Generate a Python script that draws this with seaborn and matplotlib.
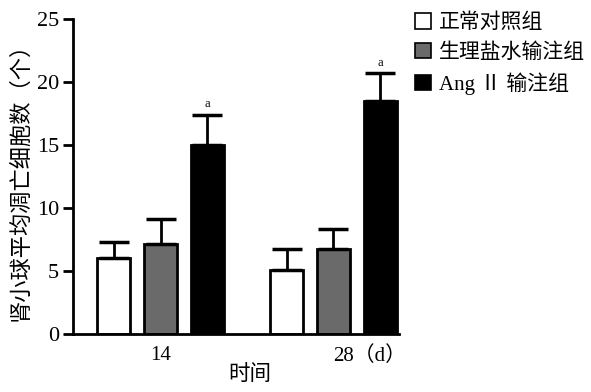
import numpy as np
import pandas as pd
import seaborn as sns
import matplotlib
matplotlib.use("Agg")
import matplotlib.pyplot as plt
from matplotlib.patches import Patch

# Data
times = ["14", "28（d）"]
groups = ["正常对照组", "生理盐水输注组", "Ang Ⅱ 输注组"]
means = {
    "正常对照组": [6.0, 5.1],
    "生理盐水输注组": [7.1, 6.7],
    "Ang Ⅱ 输注组": [15.0, 18.5],
}
errors = {
    "正常对照组": [1.3, 1.6],
    "生理盐水输注组": [2.0, 1.6],
    "Ang Ⅱ 输注组": [2.4, 2.2],
}
colors = ["#ffffff", "#6a6a6a", "#000000"]
yticks = [0, 5, 10, 15, 20, 25]

rows = []
for g in groups:
    for t, v in zip(times, means[g]):
        rows.append({"time": t, "group": g, "value": v})
df = pd.DataFrame(rows)

sns.set_theme(style="white")
plt.rcParams["font.family"] = ["Liberation Serif", "Noto Sans CJK SC", "DejaVu Sans"]
plt.rcParams.update({"text.color": "black", "axes.labelcolor": "black",
                     "xtick.color": "black", "ytick.color": "black"})

fig = plt.figure(figsize=(5.91, 3.92), dpi=100)
ax = fig.add_axes([73 / 591, 1 - 334 / 392, (399 - 73) / 591, (334 - 18.7) / 392])

sns.barplot(data=df, x="time", y="value", hue="group", hue_order=groups,
            order=times, palette=colors, edgecolor="black", linewidth=2,
            width=0.81, gap=0.29, errorbar=None, legend=False, ax=ax)

# one-sided error bars on top of each bar
for g, cont in zip(groups, ax.containers):
    xs = [p.get_x() + p.get_width() / 2 for p in cont.patches]
    hs = [p.get_height() for p in cont.patches]
    err = errors[g]
    ax.errorbar(xs, hs, yerr=[np.zeros(len(err)), err], fmt="none",
                ecolor="black", elinewidth=2, capsize=11, capthick=2.5, zorder=3)
    if g == groups[-1]:
        for x, h, e in zip(xs, hs, err):
            ax.text(x, h + e + 0.35, "a", ha="center", va="bottom", fontsize=9)

ax.set_xlim(-0.506, 1.379)
ax.set_ylim(0, 25)
ax.set_yticks(yticks)
ax.set_yticklabels([str(t) for t in yticks], fontsize=16)
ax.set_xticks([0, 1])
ax.set_xticklabels(times, fontsize=15)
# the unit suffix hangs to the right of the second tick
ax.get_xticklabels()[1].set_horizontalalignment("left")

ax.tick_params(axis="y", direction="out", length=7, width=2, color="black", pad=3,
               left=True)
ax.tick_params(axis="x", length=0, pad=9)
for s in ["top", "right"]:
    ax.spines[s].set_visible(False)
for s in ["left", "bottom"]:
    ax.spines[s].set_linewidth(2)
    ax.spines[s].set_color("black")

ax.set_xlabel("")
ax.set_ylabel("肾小球平均凋亡细胞数（个）", fontsize=16, labelpad=4)
fig.text(250 / 591, 1 - 375 / 392, "时间", ha="center", va="center", fontsize=15.5)

handles = [Patch(facecolor=c, edgecolor="black", linewidth=1.2) for c in colors]
leg = fig.legend(handles, groups, loc="upper left", bbox_to_anchor=(405 / 591, 1 - 3 / 392),
                 frameon=False, fontsize=15, handlelength=0.75, handleheight=0.75,
                 handletextpad=0.4, labelspacing=0.45, borderpad=0)

fig.savefig("out.png", dpi=100)
